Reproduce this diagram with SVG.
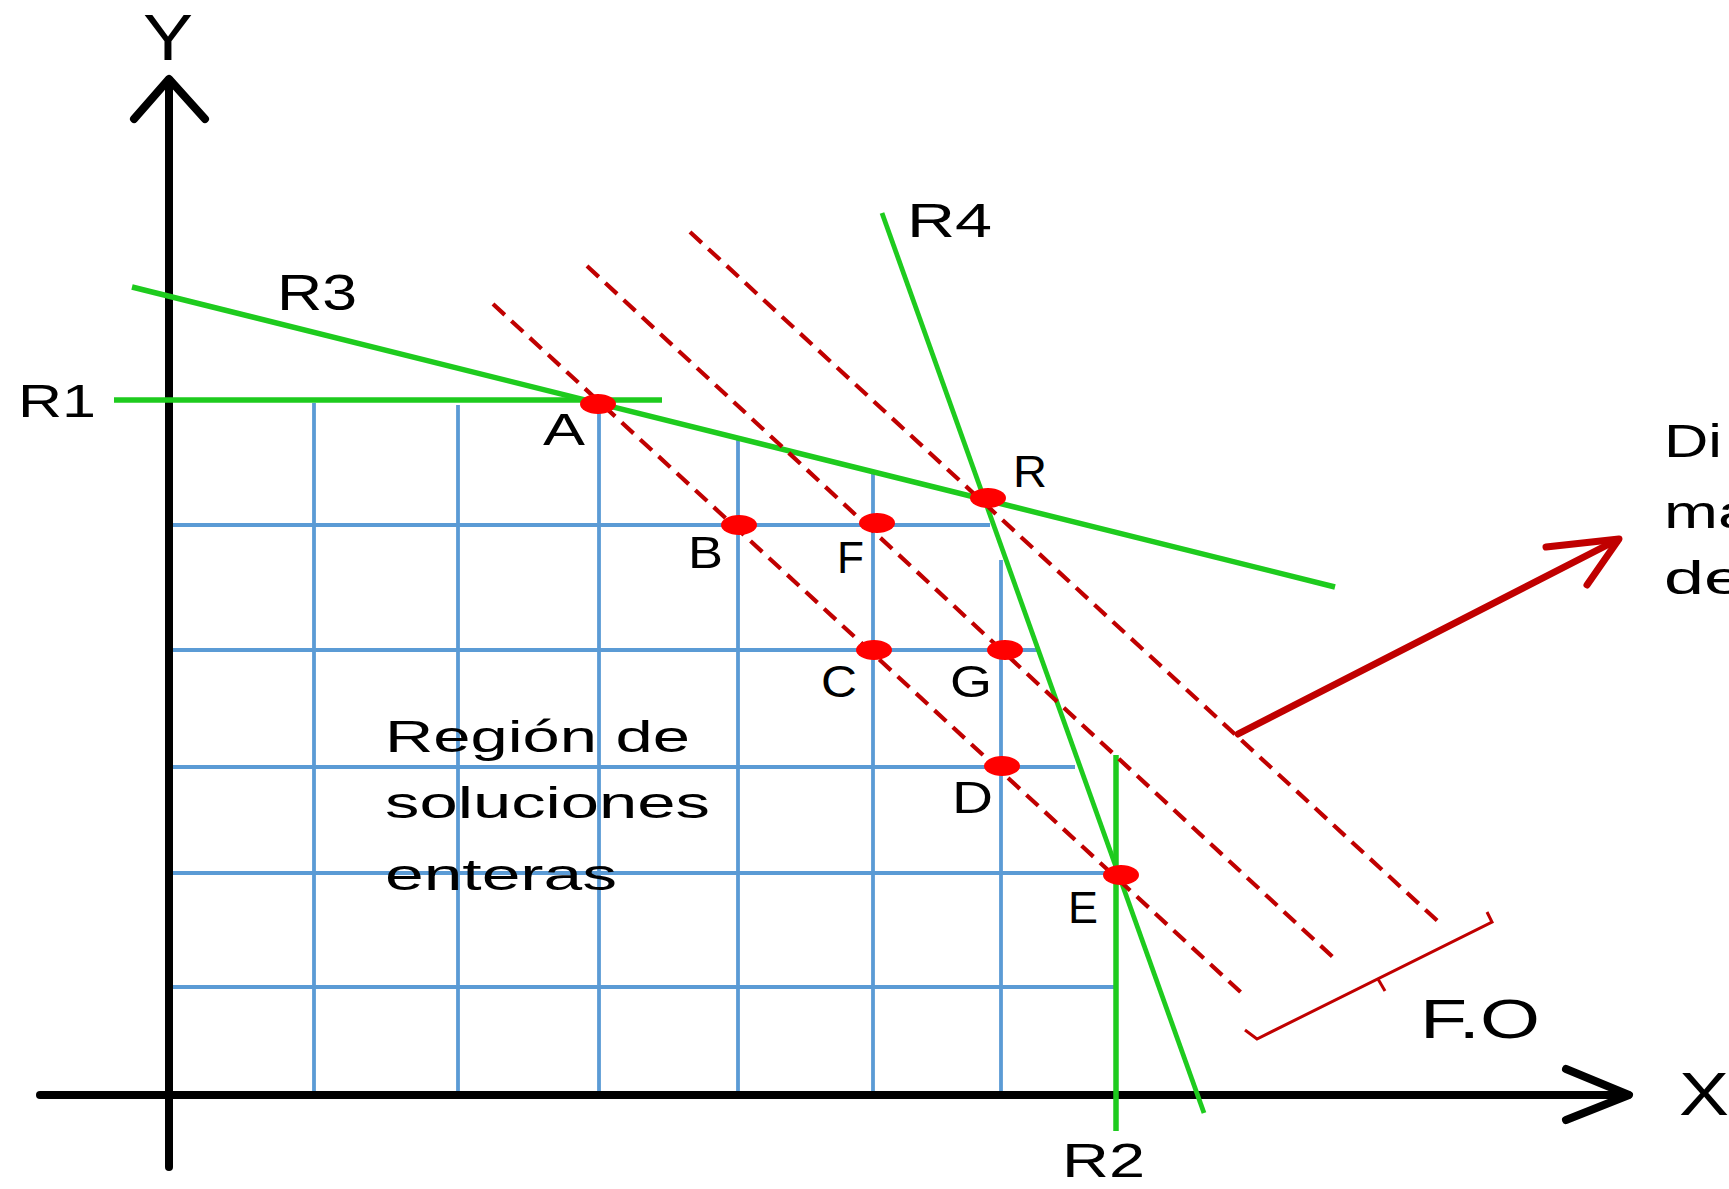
<svg xmlns="http://www.w3.org/2000/svg" width="1729" height="1189" viewBox="0 0 1729 1189">
<style>
.grid{stroke:#5B9BD5;stroke-width:3.8;fill:none}
.green{stroke:#1ECB1E;stroke-width:5.5;fill:none;stroke-linecap:butt}
.iso{stroke:#C00000;stroke-width:4.2;fill:none;stroke-dasharray:16 9}
.axis{stroke:#000;stroke-width:8;fill:none;stroke-linecap:round;stroke-linejoin:round}
.dot{fill:#FF0000}
.lbl{font-family:"Liberation Sans",Arial,sans-serif;fill:#000}
</style>
<rect width="1729" height="1189" fill="#fff"/>
<g id="grid">
<line class="grid" x1="314" y1="403" x2="314" y2="1095"/>
<line class="grid" x1="458" y1="405" x2="458" y2="1095"/>
<line class="grid" x1="599" y1="404" x2="599" y2="1095"/>
<line class="grid" x1="738" y1="440" x2="738" y2="1095"/>
<line class="grid" x1="873" y1="474" x2="873" y2="1095"/>
<line class="grid" x1="1001" y1="560" x2="1001" y2="1095"/>
<line class="grid" x1="170" y1="525" x2="990" y2="525"/>
<line class="grid" x1="170" y1="650" x2="1038" y2="650"/>
<line class="grid" x1="170" y1="767" x2="1075" y2="767"/>
<line class="grid" x1="170" y1="873" x2="1115" y2="873"/>
<line class="grid" x1="170" y1="987" x2="1115" y2="987"/>
</g>
<g id="axes">
<line class="axis" x1="169" y1="80" x2="169" y2="1167"/>
<polyline class="axis" points="134,119 169,79 205,119"/>
<line class="axis" x1="40" y1="1095" x2="1628" y2="1095"/>
<polyline class="axis" points="1566,1069 1629,1095 1566,1120"/>
</g>
<g id="constraints">
<line id="R1" class="green" x1="114" y1="400" x2="662" y2="400"/>
<line id="R3" class="green" x1="132" y1="287" x2="1335" y2="587"/>
<line id="R4" class="green" x1="882" y1="213" x2="1204" y2="1113" style="stroke-width:4.8"/>
<line id="R2" class="green" x1="1116" y1="755" x2="1116" y2="1131"/>
</g>
<g id="objective-lines">
<line class="iso" x1="493" y1="304" x2="1247" y2="998"/>
<line class="iso" x1="587" y1="266" x2="1336" y2="960"/>
<line class="iso" x1="690" y1="232" x2="1443" y2="926"/>
</g>
<g id="direction-arrow" stroke="#C00000" fill="none" stroke-linecap="round" stroke-linejoin="round">
<line x1="1238" y1="734" x2="1617" y2="540" stroke-width="7"/>
<polyline points="1546,547 1619,539 1587,585" stroke-width="7"/>
</g>
<g id="fo-bracket" stroke="#C00000" fill="none" stroke-width="3">
<polyline points="1245,1030 1257,1039 1492,922 1487,912"/>
<line x1="1378" y1="979" x2="1385" y2="991"/>
</g>
<g id="points">
<ellipse id="pA" class="dot" cx="598" cy="404" rx="18" ry="10"/>
<ellipse id="pB" class="dot" cx="739" cy="525" rx="18" ry="10"/>
<ellipse id="pF" class="dot" cx="877" cy="523" rx="18" ry="10"/>
<ellipse id="pR" class="dot" cx="988" cy="498" rx="18" ry="10"/>
<ellipse id="pC" class="dot" cx="874" cy="650" rx="18" ry="10"/>
<ellipse id="pG" class="dot" cx="1005" cy="650" rx="18" ry="10"/>
<ellipse id="pD" class="dot" cx="1002" cy="766" rx="18" ry="10"/>
<ellipse id="pE" class="dot" cx="1121" cy="875" rx="18" ry="10"/>
</g>
<g id="labels" class="lbl">
<text class="lbl" x="143" y="60" font-size="64" textLength="50" lengthAdjust="spacingAndGlyphs">Y</text>
<text class="lbl" x="1679" y="1115" font-size="62" textLength="50" lengthAdjust="spacingAndGlyphs">X</text>
<text class="lbl" x="18" y="417" font-size="47" textLength="78" lengthAdjust="spacingAndGlyphs">R1</text>
<text class="lbl" x="277" y="310" font-size="50" textLength="80" lengthAdjust="spacingAndGlyphs">R3</text>
<text class="lbl" x="907" y="237" font-size="48" textLength="85" lengthAdjust="spacingAndGlyphs">R4</text>
<text class="lbl" x="1062" y="1177" font-size="48" textLength="83" lengthAdjust="spacingAndGlyphs">R2</text>
<text class="lbl" x="543" y="445" font-size="45" textLength="42" lengthAdjust="spacingAndGlyphs">A</text>
<text class="lbl" x="688" y="568" font-size="45" textLength="35" lengthAdjust="spacingAndGlyphs">B</text>
<text class="lbl" x="837" y="573" font-size="45" textLength="27" lengthAdjust="spacingAndGlyphs">F</text>
<text class="lbl" x="1013" y="487" font-size="45" textLength="34" lengthAdjust="spacingAndGlyphs">R</text>
<text class="lbl" x="821" y="697" font-size="45" textLength="36" lengthAdjust="spacingAndGlyphs">C</text>
<text class="lbl" x="950" y="697" font-size="45" textLength="42" lengthAdjust="spacingAndGlyphs">G</text>
<text class="lbl" x="952" y="813" font-size="45" textLength="41" lengthAdjust="spacingAndGlyphs">D</text>
<text class="lbl" x="1068" y="923" font-size="45" textLength="30" lengthAdjust="spacingAndGlyphs">E</text>
<text class="lbl" x="1420" y="1038" font-size="55" textLength="120" lengthAdjust="spacingAndGlyphs">F.O</text>
<text class="lbl" x="385" y="752" font-size="44" textLength="305" lengthAdjust="spacingAndGlyphs">Región de</text>
<text class="lbl" x="385" y="818" font-size="44" textLength="325" lengthAdjust="spacingAndGlyphs">soluciones</text>
<text class="lbl" x="385" y="890" font-size="44" textLength="232" lengthAdjust="spacingAndGlyphs">enteras</text>
<text class="lbl" x="1664" y="457" font-size="47" textLength="58" lengthAdjust="spacingAndGlyphs">Di</text>
<text class="lbl" x="1664" y="528" font-size="47" textLength="90" lengthAdjust="spacingAndGlyphs">ma</text>
<text class="lbl" x="1664" y="594" font-size="47" textLength="80" lengthAdjust="spacingAndGlyphs">de</text>
</g>
</svg>
